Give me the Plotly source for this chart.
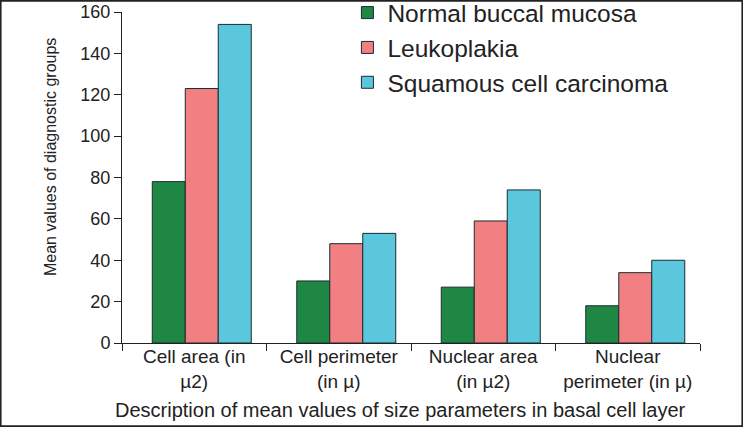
import plotly.graph_objects as go

categories = ["Cell area (in<br>µ2)", "Cell perimeter<br>(in µ)", "Nuclear area<br>(in µ2)", "Nuclear<br>perimeter (in µ)"]
series_names = ["Normal buccal mucosa", "Leukoplakia", "Squamous cell carcinoma"]
normal = [78, 30, 27, 18]
leuko = [123, 48, 59, 34]
scc = [154, 53, 74, 40]
colors = ["#1e8744", "#f27f82", "#5bc7dc"]
y_ticks = [0, 20, 40, 60, 80, 100, 120, 140, 160]

W, H = 743, 427
ML, MR, MT, MB = 122, 43, 12, 84
PW, PH = W - ML - MR, H - MB - MT
GROUP_SHIFT = 0.052  # bar groups sit slightly right of category centre in the original

n = len(categories)
xpos = list(range(n))
fig = go.Figure()
for i, (name, vals) in enumerate(zip(series_names, [normal, leuko, scc])):
    fig.add_trace(go.Bar(
        x=xpos, y=vals, name=name, legendgroup=name,
        marker=dict(color=colors[i], line=dict(color="#1b2b30", width=1)),
        offsetgroup=str(i),
    ))

fig.add_trace(go.Scatter(x=xpos, y=[None]*n, xaxis="x2", showlegend=False, hoverinfo="skip"))

lo = -0.5 - GROUP_SHIFT
font_family = "Liberation Sans, Arial, sans-serif"
fig.update_layout(
    width=W, height=H,
    margin=dict(l=ML, r=MR, t=MT, b=MB, autoexpand=False),
    paper_bgcolor="white", plot_bgcolor="white",
    font=dict(family=font_family, color="#222222"),
    barmode="group", bargap=0.315, bargroupgap=0,
    xaxis=dict(range=[lo, lo + n], tickvals=[lo + k for k in range(n + 1)],
               ticktext=[""] * (n + 1), ticks="outside", ticklen=7, tickcolor="#222",
               showline=True, linecolor="#222", linewidth=1, showgrid=False, zeroline=False,
               automargin=False),
    xaxis2=dict(overlaying="x", side="bottom", range=[-0.5, n - 0.5], tickvals=xpos,
                ticktext=categories, ticks="", showline=False, showgrid=False, zeroline=False,
                tickfont=dict(size=19), anchor="y", automargin=False),
    yaxis=dict(range=[0, 160], tickvals=y_ticks, ticks="outside", ticklen=7, tickcolor="#222",
               showline=True, linecolor="#222", linewidth=1, showgrid=False, zeroline=False,
               tickfont=dict(size=18), automargin=False),
    legend=dict(x=0.39, y=1.066, xanchor="left", yanchor="top", font=dict(size=24.5),
                bgcolor="rgba(0,0,0,0)", tracegroupgap=0),
    annotations=[
        dict(text="Mean values of diagnostic groups", textangle=-90, xref="paper", yref="paper",
             x=(50 - ML) / PW, y=(H - MB - 157) / PH, xanchor="center", yanchor="middle",
             showarrow=False, font=dict(size=16)),
        dict(text="Description of mean values of size parameters in basal cell layer", xref="paper", yref="paper",
             x=(400 - ML) / PW, y=(H - MB - 410) / PH, xanchor="center", yanchor="middle",
             showarrow=False, font=dict(size=20)),
    ],
    shapes=[dict(type="rect", xref="paper", yref="paper",
                 x0=-ML / PW + 0.001, x1=1 + MR / PW - 0.001,
                 y0=-MB / PH + 0.002, y1=1 + MT / PH - 0.002,
                 line=dict(color="#222", width=2), layer="above")],
)
fig.write_html("out.html", config={"displayModeBar": False},
               post_script="document.body.style.margin='0';")
